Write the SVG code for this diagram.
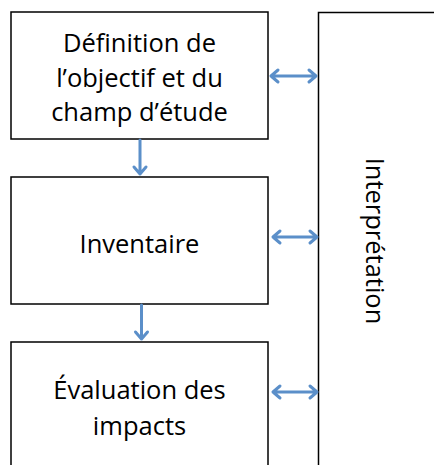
<svg xmlns="http://www.w3.org/2000/svg" width="434" height="465" viewBox="0 0 434 465">
<style>
.box{fill:#fff;stroke:#000;stroke-width:1.5}
.t{font-family:"Open Sans","Noto Sans",sans-serif;font-size:25.5px;fill:#000;text-anchor:middle}
.c{fill:none;stroke:#5B8FC9;stroke-width:3;stroke-linecap:round;stroke-linejoin:round}
</style>
<rect width="434" height="465" fill="#fff"/>
<g id="interpretation">
<rect class="box" x="318.5" y="12.5" width="130" height="470"/>
<text class="t" transform="translate(366,241) rotate(90)">Interprétation</text>
</g>
<g id="definition">
<rect class="box" x="11" y="12" width="257" height="127"/>
<text class="t" x="139.5" y="52">Définition de</text>
<text class="t" x="139.5" y="87">l’objectif et du</text>
<text class="t" x="139.5" y="121">champ d’étude</text>
</g>
<g id="inventaire">
<rect class="box" x="11" y="177" width="257" height="127"/>
<text class="t" x="139.5" y="253">Inventaire</text>
</g>
<g id="evaluation">
<rect class="box" x="11" y="342" width="257" height="140"/>
<text class="t" x="139.5" y="399">Évaluation des</text>
<text class="t" x="139.5" y="435">impacts</text>
</g>
<g id="connectors">
<path class="c" d="M271 76H316M278 70L271 76L278 82M309 70L316 76L309 82"/>
<path class="c" d="M273 237H317M280 231L273 237L280 243M310 231L317 237L310 243"/>
<path class="c" d="M273 392H317M280 386L273 392L280 398M310 386L317 392L310 398"/>
<path class="c" d="M140 140V174M134 167L140 174L146 167"/>
<path class="c" d="M141.5 305V339M135.5 332L141.5 339L147.5 332"/>
</g>
</svg>
